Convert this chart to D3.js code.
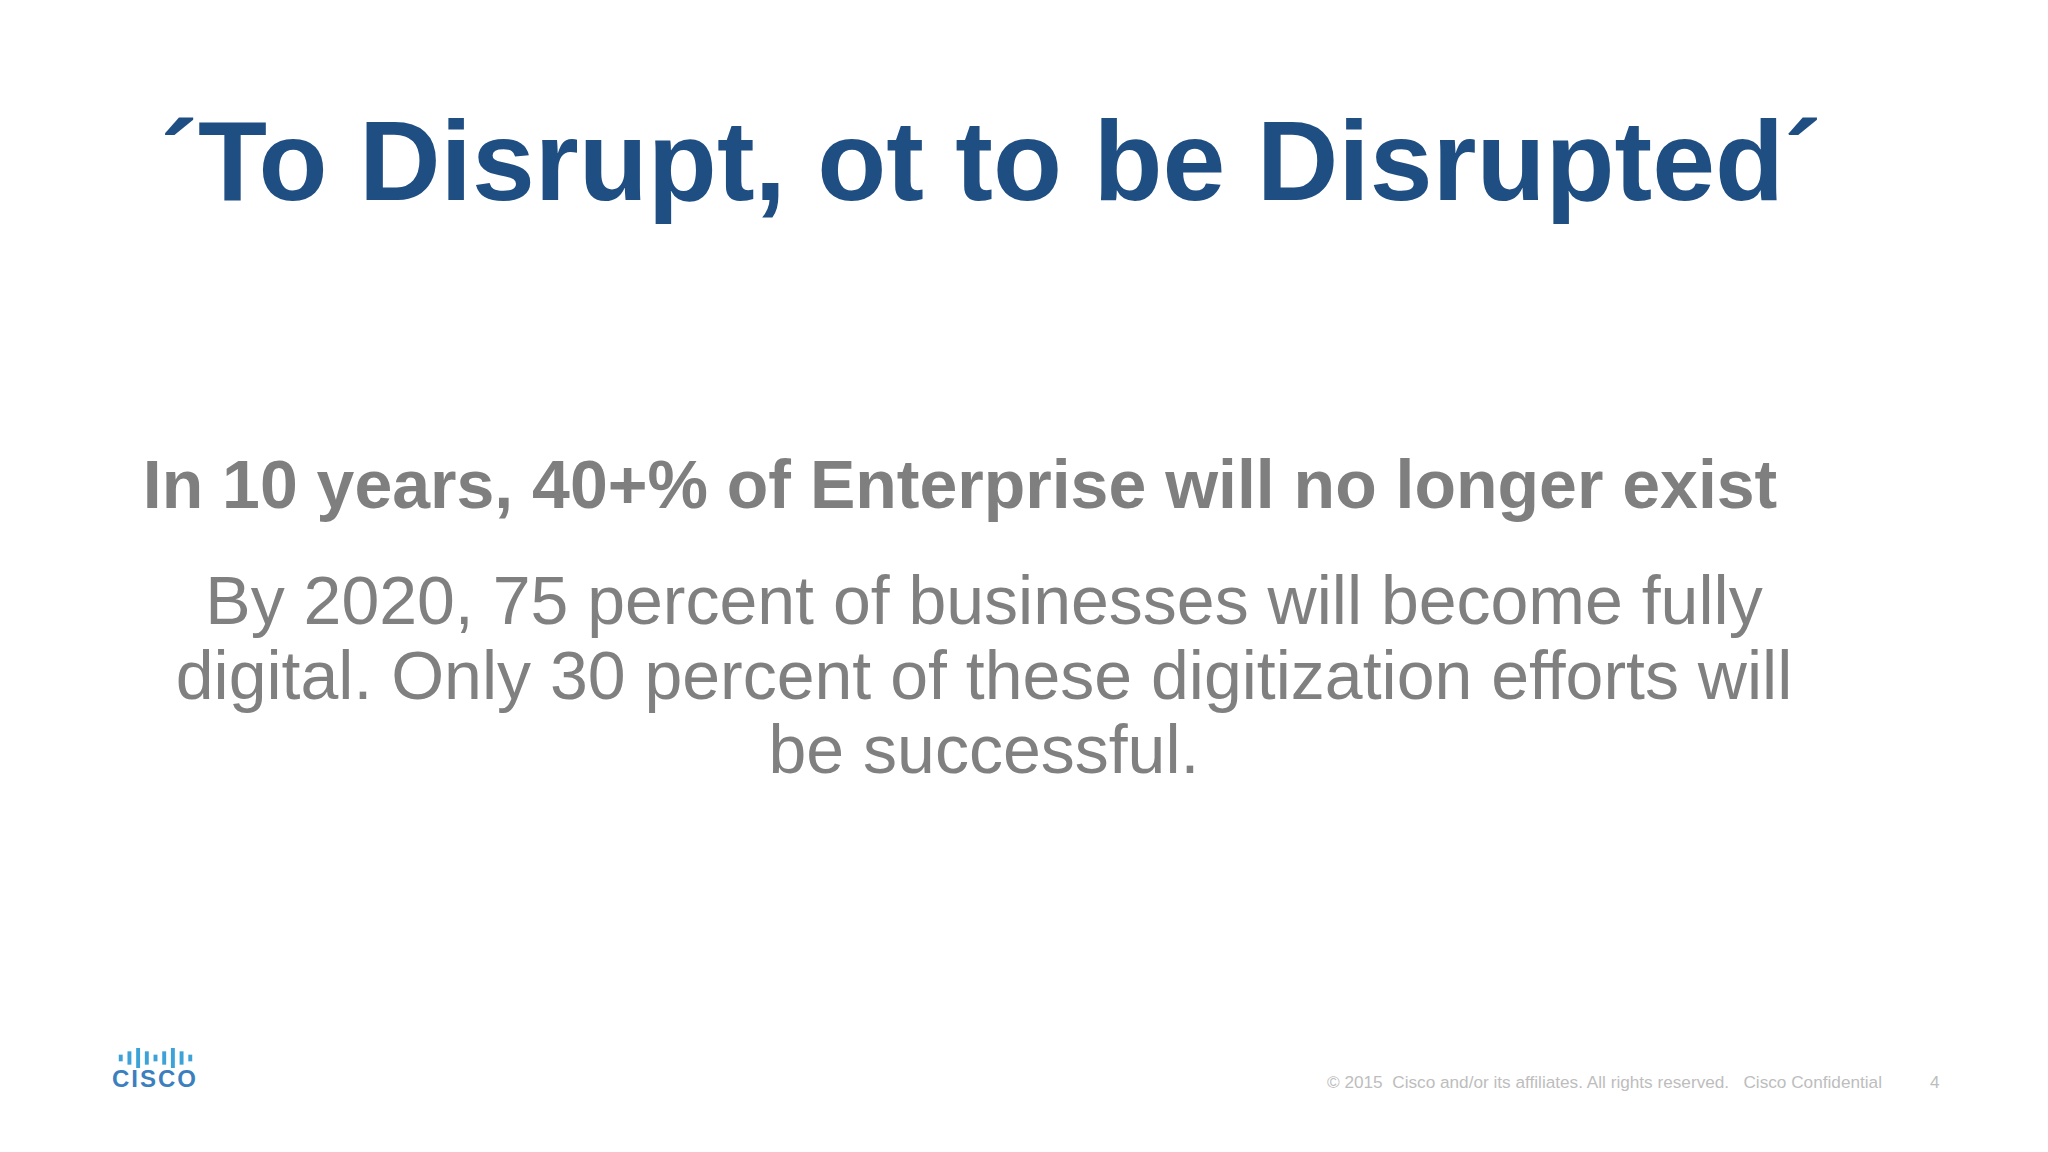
<!DOCTYPE html>
<html>
<head>
<meta charset="utf-8">
<script src="https://cdn.jsdelivr.net/npm/d3@7"></script>
<style>
  body { margin: 0; background: #fff; }
  text { font-family: "Liberation Sans", Arial, sans-serif; white-space: pre; }
</style>
</head>
<body>
<svg id="container" width="2048" height="1152"></svg>
<script>
  var titleText = "\u00B4To Disrupt, ot to be Disrupted\u00B4";
  var headlineText = "In 10 years, 40+% of Enterprise will no longer exist";
  var bodyLines = [
    "By 2020, 75 percent of businesses will become fully",
    "digital. Only 30 percent of these digitization efforts will",
    "be successful."
  ];
  var footerText = "\u00A9 2015  Cisco and/or its affiliates. All rights reserved.   Cisco Confidential";
  var pageNumber = "4";
  var logoBars = [1, 2, 3, 2, 1, 2, 3, 2, 1];

  var svg = d3.select("#container");

  svg.append("text")
    .attr("x", 991).attr("y", 200)
    .attr("text-anchor", "middle")
    .style("font-size", "113px").style("font-weight", "bold")
    .style("fill", "#1f4e83")
    .text(titleText);

  svg.append("text")
    .attr("x", 960).attr("y", 508)
    .attr("text-anchor", "middle")
    .style("font-size", "68px").style("font-weight", "bold")
    .style("fill", "#7f7f7f")
    .text(headlineText);

  var y = d3.scaleLinear().domain([0, 2]).range([624, 773]);
  svg.selectAll(".body")
    .data(bodyLines)
    .enter()
    .append("text")
    .attr("class", "body")
    .attr("x", 984)
    .attr("y", function(d, i) {return y(i);})
    .attr("text-anchor", "middle")
    .style("font-size", "68px")
    .style("fill", "#808080")
    .text(function(d) {return d;});

  // footer
  svg.append("text")
    .attr("x", 1327).attr("y", 1088)
    .style("font-size", "17.2px").style("fill", "#bdbdbd")
    .text(footerText);
  svg.append("text")
    .attr("x", 1930).attr("y", 1088)
    .style("font-size", "17.2px").style("fill", "#bdbdbd")
    .text(pageNumber);

  // cisco logo
  var bx = d3.scaleBand().domain(d3.range(logoBars.length)).range([114, 197]).padding(0.55);
  var bh = d3.scaleLinear().domain([0, 3]).range([0, 20]);
  svg.selectAll(".logobar")
    .data(logoBars)
    .enter()
    .append("rect")
    .attr("class", "logobar")
    .attr("x", function(d, i) {return bx(i);})
    .attr("width", bx.bandwidth())
    .attr("y", function(d) {return 1062 - bh(d) / 2 - 4;})
    .attr("height", function(d) {return bh(d);})
    .style("fill", "#3da2d8");
  svg.append("text")
    .attr("x", 155).attr("y", 1087)
    .attr("text-anchor", "middle")
    .style("font-size", "24px").style("font-weight", "bold")
    .style("letter-spacing", "2px")
    .style("fill", "#3c7fbf")
    .text("CISCO");
</script>
</body>
</html>
